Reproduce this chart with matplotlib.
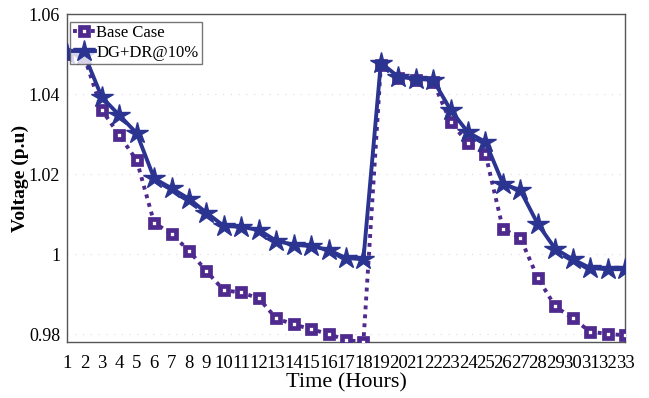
import matplotlib
matplotlib.use("Agg")
import matplotlib.pyplot as plt
from matplotlib.ticker import FuncFormatter

hours = list(range(1, 34))

base_case = [1.050, 1.0492, 1.036, 1.0297, 1.0234, 1.0078, 1.005, 1.0008, 0.9957,
             0.9909, 0.9904, 0.9889, 0.9839, 0.9824, 0.9812, 0.9800, 0.9785, 0.9780,
             1.0472, 1.0440, 1.0435, 1.0430, 1.0330, 1.0277, 1.0250, 1.0063, 1.0040,
             0.9940, 0.9869, 0.9839, 0.9806, 0.9800, 0.9797]

dg_dr_10 = [1.050, 1.0498, 1.0392, 1.0347, 1.0302, 1.0189, 1.0164, 1.0138, 1.0103,
            1.0070, 1.0068, 1.0060, 1.0033, 1.0023, 1.0020, 1.0010, 0.9990, 0.9987,
            1.0478, 1.0443, 1.0438, 1.0435, 1.0360, 1.0304, 1.0280, 1.0176, 1.0159,
            1.0075, 1.0013, 0.9987, 0.9965, 0.9962, 0.9962]

y_ticks = [0.98, 1.00, 1.02, 1.04, 1.06]

plt.rcParams["font.family"] = ["Liberation Serif", "DejaVu Serif"]

purple = "#4E2A8E"
navy = "#2B3490"

fig = plt.figure(figsize=(6.49, 3.98), dpi=100)
ax = fig.add_axes([0.1032, 0.1407, 0.8598, 0.8241])

ax.plot(hours, base_case, linestyle=(0, (1, 1.3)), color=purple, linewidth=2.8,
        marker="s", markersize=5.5, markerfacecolor="white",
        markeredgecolor=purple, markeredgewidth=3.4, label="Base Case", zorder=3)
ax.plot(hours, dg_dr_10, linestyle="-", color=navy, linewidth=2.8,
        marker="*", markersize=16, markerfacecolor=navy,
        markeredgecolor=navy, label="DG+DR@10%", zorder=4)

ax.set_xlim(1, 33)
ax.set_ylim(0.978, 1.06)
ax.set_xticks(hours)
ax.set_yticks(y_ticks)
ax.yaxis.set_major_formatter(FuncFormatter(lambda v, _: f"{v:g}"))
ax.tick_params(axis="y", length=0, labelsize=13, pad=5)
ax.tick_params(axis="x", length=0, labelsize=13.5, pad=9)

ax.grid(axis="y", linestyle=(0, (1, 6)), color="#dddddd", linewidth=0.8)
for s in ax.spines.values():
    s.set_color("#555555")
    s.set_linewidth(1.0)

ax.set_xlabel("Time (Hours)", fontsize=16, labelpad=1)
ax.set_ylabel("Voltage (p.u)", fontsize=14, fontweight="bold", labelpad=0)

leg = ax.legend(loc="upper left", bbox_to_anchor=(0.005, 0.976),
                fontsize=12, frameon=True, fancybox=False,
                borderpad=0.2, handlelength=1.3, handletextpad=0.1,
                labelspacing=0.2, borderaxespad=0.0)
leg.get_frame().set_edgecolor("#555555")
leg.get_frame().set_linewidth(1.0)

fig.savefig("out.png", dpi=100)
